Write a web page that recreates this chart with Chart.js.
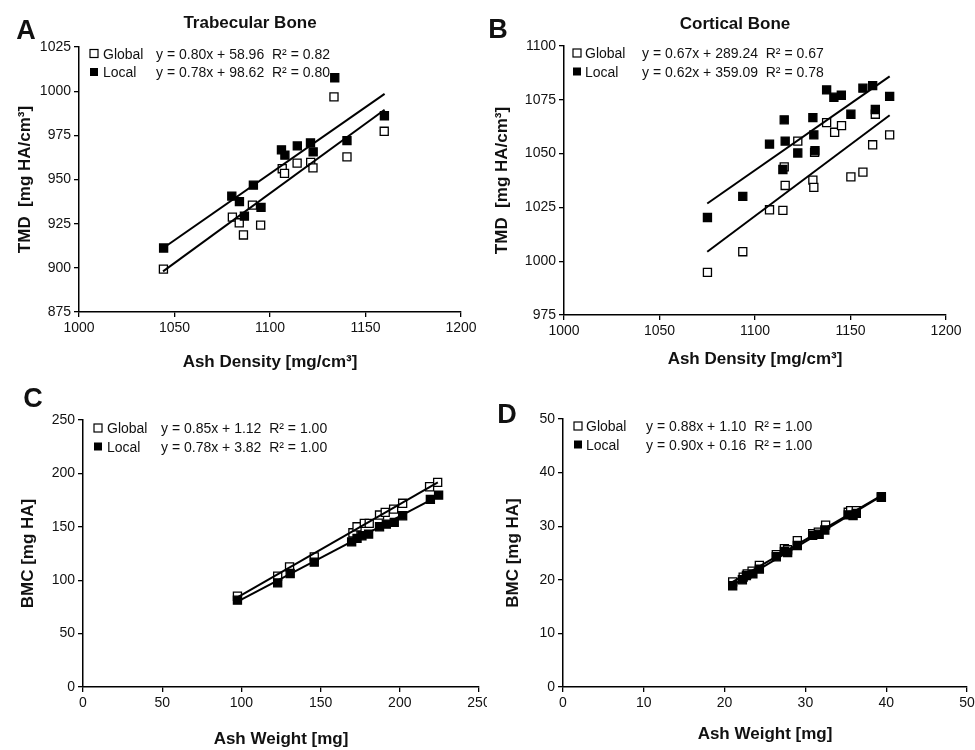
<!DOCTYPE html>
<html>
<head>
<meta charset="utf-8">
<script src="https://cdn.jsdelivr.net/npm/chart.js@4.4.0/dist/chart.umd.min.js"></script>
<style>
  body { margin: 0; background: #fff; width: 975px; height: 750px; position: relative; overflow: hidden; }
  canvas { position: absolute; }
</style>
</head>
<body>
<canvas id="cA" width="487" height="375" style="left:0;top:0"></canvas>
<canvas id="cB" width="488" height="375" style="left:487px;top:0"></canvas>
<canvas id="cC" width="487" height="375" style="left:0;top:375px"></canvas>
<canvas id="cD" width="488" height="375" style="left:487px;top:375px"></canvas>
<script>
// ---- data ----
// A: trabecular bone, TMD vs ash density
const trabGlobalX = [1044.2, 1080.3, 1083.9, 1086.1, 1090.8, 1095.1, 1106.4, 1107.6, 1114.2, 1121.3, 1122.5, 1133.5, 1140.3, 1159.8];
const trabGlobalY = [899.3, 928.7, 925.5, 918.6, 935.5, 924.2, 956.1, 953.5, 959.3, 959.7, 956.6, 996.8, 962.8, 977.3];
const trabLocalX = [1044.3, 1080.0, 1084.0, 1086.6, 1091.3, 1095.3, 1106.0, 1107.8, 1114.3, 1121.2, 1122.6, 1133.9, 1140.3, 1159.9];
const trabLocalY = [911.2, 940.6, 937.5, 929.3, 946.8, 934.2, 966.8, 963.8, 969.0, 970.7, 965.6, 1007.6, 972.0, 986.1];
const trabGlobalFitX = [1044, 1160];
const trabGlobalFitY = [898, 989.5];
const trabLocalFitX = [1044.5, 1160];
const trabLocalFitY = [911.5, 998.5];

// B: cortical bone, TMD vs ash density
const cortGlobalX = [1075.1, 1093.6, 1107.6, 1114.6, 1115.8, 1115.3, 1122.4, 1130.3, 1130.8, 1131.2, 1137.5, 1141.7, 1145.3, 1150.2, 1156.5, 1161.6, 1163.0, 1170.5];
const cortGlobalY = [994.8, 1004.4, 1023.9, 1023.6, 1035.2, 1043.8, 1055.8, 1037.7, 1034.3, 1050.6, 1064.4, 1059.9, 1063.0, 1039.2, 1041.4, 1054.1, 1068.3, 1058.7];
const cortLocalX = [1075.1, 1093.6, 1107.6, 1115.3, 1115.8, 1114.6, 1122.4, 1130.3, 1130.8, 1131.4, 1137.5, 1141.3, 1145.2, 1150.2, 1156.5, 1161.6, 1163.0, 1170.5];
const cortLocalY = [1020.3, 1030.1, 1054.4, 1065.7, 1055.8, 1042.6, 1050.3, 1066.7, 1058.7, 1051.3, 1079.6, 1076.2, 1077.1, 1068.3, 1080.4, 1081.6, 1070.5, 1076.6];
const cortGlobalFitX = [1075, 1170.5];
const cortGlobalFitY = [1004.4, 1067.8];
const cortLocalFitX = [1075, 1170.5];
const cortLocalFitY = [1026.8, 1085.9];

// C: trabecular BMC vs ash weight
const trabBmcGlobalX = [97.5, 122.9, 130.4, 146.0, 170.4, 173.0, 177.6, 180.7, 187.2, 190.8, 196.1, 201.8, 218.8, 223.9];
const trabBmcGlobalY = [85.0, 103.8, 112.5, 121.9, 144.4, 150.0, 153.2, 153.2, 161.0, 163.5, 166.6, 172.0, 187.5, 191.6];
const trabBmcLocalX = [97.5, 122.9, 130.8, 146.0, 169.6, 173.0, 176.1, 180.3, 187.2, 191.5, 196.5, 201.8, 219.3, 224.5];
const trabBmcLocalY = [81.3, 97.5, 106.3, 116.9, 135.9, 139.1, 141.6, 143.2, 150.0, 152.5, 154.1, 160.3, 175.7, 179.7];
const trabBmcGlobalFitX = [97.5, 224];
const trabBmcGlobalFitY = [84, 191.5];
const trabBmcLocalFitX = [97.5, 224.5];
const trabBmcLocalFitY = [80, 179];

// D: cortical BMC vs ash weight
const cortBmcGlobalX = [21.0, 22.3, 22.8, 23.4, 24.3, 26.4, 27.4, 27.8, 29.0, 30.9, 31.6, 32.5, 35.3, 35.6, 36.3, 39.4];
const cortBmcGlobalY = [19.6, 20.5, 21.1, 21.6, 22.7, 24.7, 25.8, 25.6, 27.3, 28.6, 28.9, 30.2, 32.6, 32.9, 32.9, 35.5];
const cortBmcLocalX = [21.0, 22.2, 22.7, 23.5, 24.3, 26.4, 27.4, 27.8, 29.0, 30.9, 31.7, 32.4, 35.3, 35.9, 36.3, 39.4];
const cortBmcLocalY = [18.9, 20.0, 20.8, 21.1, 22.0, 24.3, 25.3, 25.1, 26.4, 28.3, 28.5, 29.3, 32.1, 32.0, 32.4, 35.4];
const cortBmcGlobalFitX = [21, 39.4];
const cortBmcGlobalFitY = [19.6, 35.7];
const cortBmcLocalFitX = [21, 39.4];
const cortBmcLocalFitY = [19.0, 35.6];

const FONT = '"Liberation Sans", Arial, sans-serif';

function pts(xs, ys) {
  return xs.map((x, i) => ({ x: x, y: ys[i] }));
}

function markers(xs, ys, filled) {
  return {
    data: pts(xs, ys),
    showLine: false,
    pointStyle: 'rect',
    pointRadius: 5.7,
    pointBorderWidth: 1.3,
    pointBorderColor: '#000',
    pointBackgroundColor: filled ? '#000' : '#fff',
    order: filled ? 1 : 2
  };
}

function fitLine(xs, ys) {
  return {
    data: pts(xs, ys),
    showLine: true,
    borderColor: '#000',
    borderWidth: 2,
    pointRadius: 0,
    fill: false,
    order: 0
  };
}

// draws the panel letter, the panel title and the legend block with equations
const panelDecor = {
  id: 'panelDecor',
  afterDraw(chart, args, o) {
    const ctx = chart.ctx;
    ctx.save();
    ctx.fillStyle = '#111';
    ctx.textBaseline = 'alphabetic';
    ctx.textAlign = 'center';
    ctx.font = 'bold 27px ' + FONT;
    ctx.fillText(o.letter, o.letterX, o.letterY);
    if (o.title) {
      ctx.font = 'bold 17px ' + FONT;
      ctx.fillText(o.title, o.titleX, o.titleY);
    }
    ctx.textAlign = 'left';
    ctx.font = '14px ' + FONT;
    o.rows.forEach((r, i) => {
      const y = o.rowY[i];
      ctx.lineWidth = 1.2;
      ctx.strokeStyle = '#000';
      ctx.fillStyle = r.filled ? '#000' : '#fff';
      ctx.fillRect(o.markX - 4, y - 9, 8, 8);
      if (!r.filled) ctx.strokeRect(o.markX - 4, y - 9, 8, 8);
      ctx.fillStyle = '#111';
      ctx.fillText(r.label, o.labelX, y);
      ctx.fillText(r.eq, o.eqX, y);
    });
    ctx.restore();
  }
};

function makePanel(id, p) {
  const tickFont = { size: 14, family: FONT };
  const titleFont = { size: 17, weight: 'bold', family: FONT };
  new Chart(document.getElementById(id), {
    type: 'scatter',
    data: {
      datasets: [
        fitLine(p.gFitX, p.gFitY),
        fitLine(p.lFitX, p.lFitY),
        markers(p.lX, p.lY, true),
        markers(p.gX, p.gY, false)
      ]
    },
    options: {
      responsive: false,
      animation: false,
      layout: { padding: { left: 0, top: p.top, right: p.right, bottom: 0 } },
      plugins: {
        legend: { display: false },
        tooltip: { enabled: false },
        panelDecor: p.decor
      },
      scales: {
        x: {
          type: 'linear',
          min: p.xMin, max: p.xMax,
          ticks: { stepSize: p.xStep, color: '#111', font: tickFont, padding: 3, maxRotation: 0, autoSkip: false,
                   callback: v => String(v) },
          grid: { drawOnChartArea: false, drawTicks: true, tickLength: 5, color: '#000', lineWidth: 1.3 },
          border: { color: '#000', width: 1.5 },
          title: { display: true, text: p.xTitle, color: '#111', font: titleFont, padding: { top: 0, bottom: p.xTitlePad } },
          afterFit(s) { s.height = p.xH; s.paddingLeft = 0; s.paddingRight = 0; }
        },
        y: {
          type: 'linear',
          min: p.yMin, max: p.yMax,
          ticks: { stepSize: p.yStep, color: '#111', font: tickFont, padding: 3, autoSkip: false,
                   callback: v => String(v) },
          grid: { drawOnChartArea: false, drawTicks: true, tickLength: 5, color: '#000', lineWidth: 1.3 },
          border: { color: '#000', width: 1.5 },
          title: { display: true, text: p.yTitle, color: '#111', font: titleFont, padding: { top: p.yTitlePad, bottom: 0 } },
          afterFit(s) { s.width = p.yW; s.paddingTop = 0; s.paddingBottom = 0; }
        }
      }
    },
    plugins: [panelDecor]
  });
}

makePanel('cA', {
  gX: trabGlobalX, gY: trabGlobalY, lX: trabLocalX, lY: trabLocalY,
  gFitX: trabGlobalFitX, gFitY: trabGlobalFitY, lFitX: trabLocalFitX, lFitY: trabLocalFitY,
  xMin: 1000, xMax: 1200, xStep: 50, yMin: 875, yMax: 1025, yStep: 25,
  top: 47, right: 26, yW: 79, xH: 63, xTitlePad: 2, yTitlePad: 15,
  xTitle: 'Ash Density [mg/cm³]', yTitle: 'TMD  [mg HA/cm³]',
  decor: {
    letter: 'A', letterX: 26, letterY: 39, title: 'Trabecular Bone', titleX: 250, titleY: 28,
    markX: 94, labelX: 103, eqX: 156, rowY: [58.5, 77],
    rows: [
      { label: 'Global', eq: 'y = 0.80x + 58.96  R² = 0.82', filled: false },
      { label: 'Local', eq: 'y = 0.78x + 98.62  R² = 0.80', filled: true }
    ]
  }
});

makePanel('cB', {
  gX: cortGlobalX, gY: cortGlobalY, lX: cortLocalX, lY: cortLocalY,
  gFitX: cortGlobalFitX, gFitY: cortGlobalFitY, lFitX: cortLocalFitX, lFitY: cortLocalFitY,
  xMin: 1000, xMax: 1200, xStep: 50, yMin: 975, yMax: 1100, yStep: 25,
  top: 46, right: 29, yW: 77, xH: 60, xTitlePad: 5, yTitlePad: 5,
  xTitle: 'Ash Density [mg/cm³]', yTitle: 'TMD  [mg HA/cm³]',
  decor: {
    letter: 'B', letterX: 11, letterY: 38, title: 'Cortical Bone', titleX: 248, titleY: 29,
    markX: 90, labelX: 98, eqX: 155, rowY: [58, 76.5],
    rows: [
      { label: 'Global', eq: 'y = 0.67x + 289.24  R² = 0.67', filled: false },
      { label: 'Local', eq: 'y = 0.62x + 359.09  R² = 0.78', filled: true }
    ]
  }
});

makePanel('cC', {
  gX: trabBmcGlobalX, gY: trabBmcGlobalY, lX: trabBmcLocalX, lY: trabBmcLocalY,
  gFitX: trabBmcGlobalFitX, gFitY: trabBmcGlobalFitY, lFitX: trabBmcLocalFitX, lFitY: trabBmcLocalFitY,
  xMin: 0, xMax: 250, xStep: 50, yMin: 0, yMax: 250, yStep: 50,
  top: 45, right: 8, yW: 83, xH: 63, xTitlePad: 0, yTitlePad: 18,
  xTitle: 'Ash Weight [mg]', yTitle: 'BMC [mg HA]',
  decor: {
    letter: 'C', letterX: 33, letterY: 32,
    markX: 98, labelX: 107, eqX: 161, rowY: [58, 76.5],
    rows: [
      { label: 'Global', eq: 'y = 0.85x + 1.12  R² = 1.00', filled: false },
      { label: 'Local', eq: 'y = 0.78x + 3.82  R² = 1.00', filled: true }
    ]
  }
});

makePanel('cD', {
  gX: cortBmcGlobalX, gY: cortBmcGlobalY, lX: cortBmcLocalX, lY: cortBmcLocalY,
  gFitX: cortBmcGlobalFitX, gFitY: cortBmcGlobalFitY, lFitX: cortBmcLocalFitX, lFitY: cortBmcLocalFitY,
  xMin: 0, xMax: 50, xStep: 10, yMin: 0, yMax: 50, yStep: 10,
  top: 44, right: 8, yW: 76, xH: 63, xTitlePad: 5, yTitlePad: 16,
  xTitle: 'Ash Weight [mg]', yTitle: 'BMC [mg HA]',
  decor: {
    letter: 'D', letterX: 20, letterY: 48,
    markX: 91, labelX: 99, eqX: 159, rowY: [56, 74.5],
    rows: [
      { label: 'Global', eq: 'y = 0.88x + 1.10  R² = 1.00', filled: false },
      { label: 'Local', eq: 'y = 0.90x + 0.16  R² = 1.00', filled: true }
    ]
  }
});
</script>
</body>
</html>
